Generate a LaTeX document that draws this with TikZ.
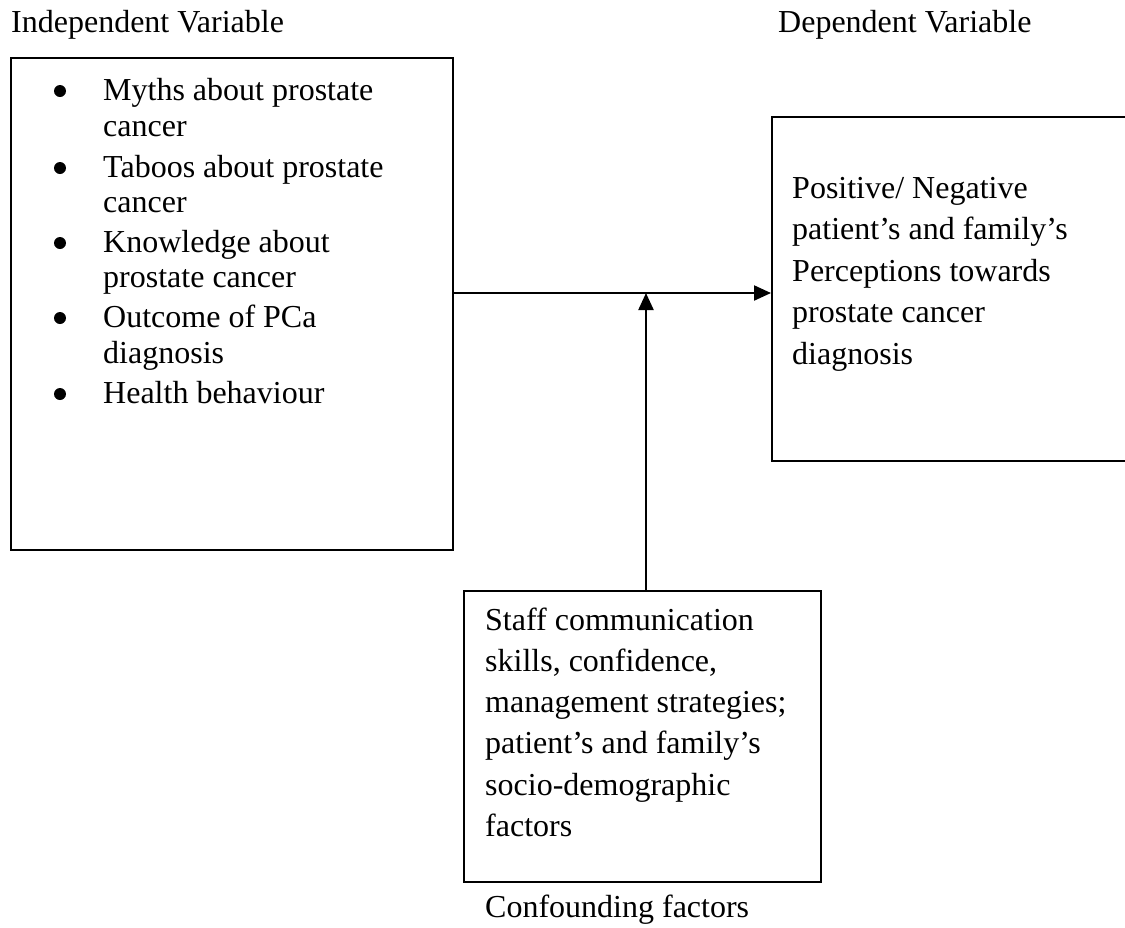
\documentclass[tikz,border=0pt]{standalone}
\usepackage{fontspec}
\setmainfont{Liberation Serif}
\usetikzlibrary{arrows.meta}
\tikzset{
  box/.style={draw, line width=2.2pt, inner sep=0pt, anchor=north west},
  txt/.style={anchor=base west, inner sep=0pt, font=\fontsize{32}{38}\selectfont},
  bul/.style={circle, fill, inner sep=0pt, minimum size=12pt},
  arr/.style={line width=2.2pt, -{Triangle[length=17pt,width=15pt]}}
}
\begin{document}
\begin{tikzpicture}[x=1pt,y=-1pt]
\useasboundingbox (0,0) rectangle (1125,927);
\clip (0,0) rectangle (1125,927);
% headings
\node[txt] (ivlab) at (11,32) {Independent Variable};
\node[txt] (dvlab) at (778,32) {Dependent Variable};
% boxes
\node[box, minimum width=442pt, minimum height=492pt] (iv) at (10,57) {};
\node[box, minimum width=370pt, minimum height=344pt] (dv) at (771,116) {};
\node[box, minimum width=357pt, minimum height=291pt] (cf) at (463,590) {};
% left box list
\node[bul] (b1) at (60,91) {};
\node[bul] (b2) at (60,168) {};
\node[bul] (b3) at (60,243) {};
\node[bul] (b4) at (60,318) {};
\node[bul] (b5) at (60,394) {};
\node[txt] (l1) at (103,100) {Myths about prostate};
\node[txt] (l2) at (103,136) {cancer};
\node[txt] (l3) at (103,177) {Taboos about prostate};
\node[txt] (l4) at (103,212) {cancer};
\node[txt] (l5) at (103,252) {Knowledge about};
\node[txt] (l6) at (103,287) {prostate cancer};
\node[txt] (l7) at (103,327) {Outcome of PCa};
\node[txt] (l8) at (103,363) {diagnosis};
\node[txt] (l9) at (103,403) {Health behaviour};
% right box text
\node[txt] (r1) at (792,198) {Positive/ Negative};
\node[txt] (r2) at (792,239.5) {patient’s and family’s};
\node[txt] (r3) at (792,281) {Perceptions towards};
\node[txt] (r4) at (792,322.5) {prostate cancer};
\node[txt] (r5) at (792,364) {diagnosis};
% bottom box text
\node[txt] (c1) at (485,630) {Staff communication};
\node[txt] (c2) at (485,671) {skills, confidence,};
\node[txt] (c3) at (485,712) {management strategies;};
\node[txt] (c4) at (485,753.5) {patient’s and family’s};
\node[txt] (c5) at (485,795) {socio-demographic};
\node[txt] (c6) at (485,836) {factors};
\node[txt] (cflab) at (485,917) {Confounding factors};
% connectors
\coordinate (j) at (646,293);
\draw[arr] (iv.east |- j) -- (dv.west |- j);
\draw[arr] (cf.north -| j) -- (j);
\end{tikzpicture}
\end{document}
